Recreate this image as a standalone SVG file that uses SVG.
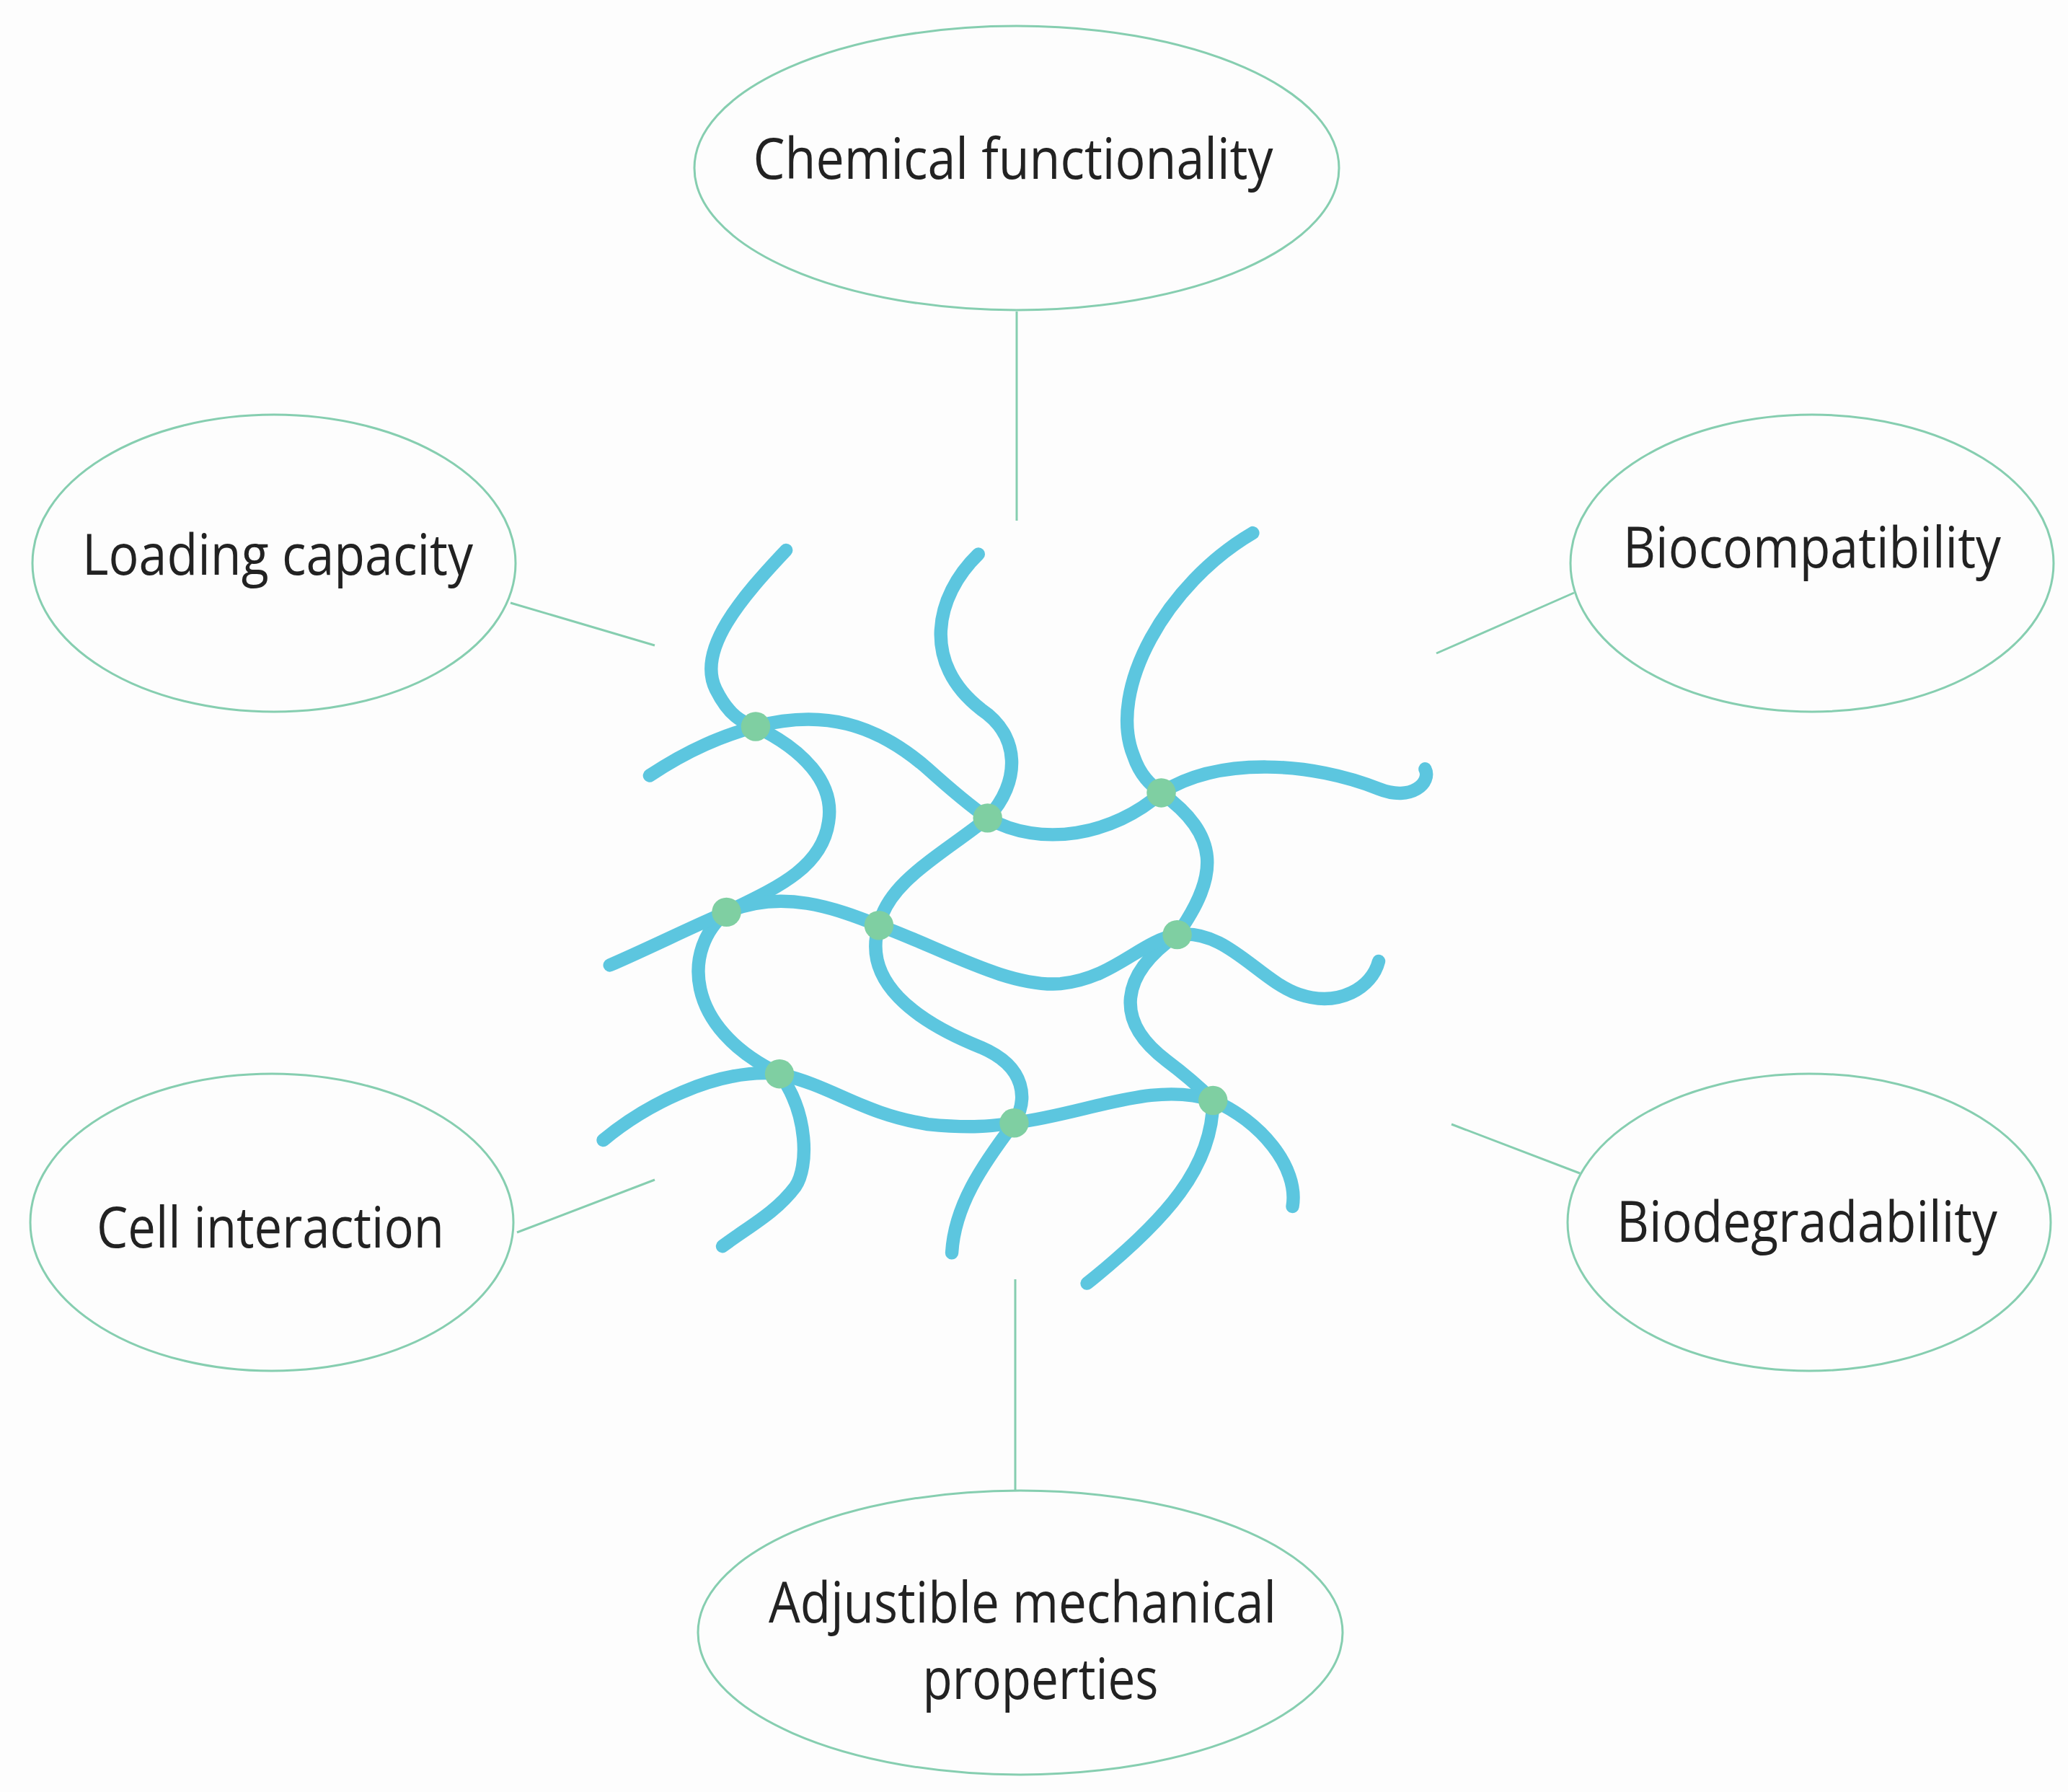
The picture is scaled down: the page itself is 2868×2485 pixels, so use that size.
<svg xmlns="http://www.w3.org/2000/svg" width="2868" height="2485" viewBox="0 0 2868 2485">
<style>
.n{fill:#fdfdfd;stroke:#86ceb0;stroke-width:3}
.c{stroke:#86ceb0;stroke-width:3;fill:none}
.t{font-family:"Open Sans",sans-serif;font-size:78px;fill:#222;text-anchor:middle}
.s{fill:none;stroke:#5cc6df;stroke-width:10;stroke-linecap:round;stroke-linejoin:round}
.d{fill:#7fcfa2}
</style>
<rect width="2868" height="2485" fill="#fdfdfd"/>
<g id="connectors">
<line class="c" x1="1410" y1="432" x2="1410" y2="722"/>
<line class="c" x1="708" y1="836" x2="908" y2="895"/>
<line class="c" x1="2183" y1="822" x2="1992" y2="906"/>
<line class="c" x1="717" y1="1709" x2="908" y2="1636"/>
<line class="c" x1="2191" y1="1627" x2="2013" y2="1559"/>
<line class="c" x1="1408" y1="1774" x2="1408" y2="2066"/>
</g>
<g id="chemical"><ellipse class="n" cx="1410" cy="233" rx="447" ry="197"/><text class="t" x="1405" y="248" textLength="721" lengthAdjust="spacingAndGlyphs">Chemical functionality</text></g>
<g id="loading"><ellipse class="n" cx="380" cy="781" rx="335" ry="206"/><text class="t" x="385" y="797" textLength="542" lengthAdjust="spacingAndGlyphs">Loading capacity</text></g>
<g id="biocompat"><ellipse class="n" cx="2513" cy="781" rx="335" ry="206"/><text class="t" x="2513" y="787" textLength="524" lengthAdjust="spacingAndGlyphs">Biocompatibility</text></g>
<g id="cell"><ellipse class="n" cx="377" cy="1695" rx="335" ry="206"/><text class="t" x="375" y="1730" textLength="482" lengthAdjust="spacingAndGlyphs">Cell interaction</text></g>
<g id="biodeg"><ellipse class="n" cx="2509" cy="1695" rx="335" ry="206"/><text class="t" x="2506" y="1722" textLength="528" lengthAdjust="spacingAndGlyphs">Biodegradability</text></g>
<g id="mech"><ellipse class="n" cx="1415" cy="2264" rx="447" ry="197"/><text class="t" x="1418" y="2250" textLength="704" lengthAdjust="spacingAndGlyphs">Adjustible mechanical</text><text class="t" x="1443" y="2356" textLength="327" lengthAdjust="spacingAndGlyphs">properties</text></g>
<g id="network" transform="scale(1.8385)">
<path class="s" d="M593,415 C560,450 525,490 540,520 C550,540 560,545 570,548 C605,565 630,590 625,620 C620,655 585,670 548,688 C515,715 515,775 588,810 C610,840 610,880 600,895 C585,915 565,925 545,940"/>
<path class="s" d="M490,585 C520,565 545,555 570,548 C620,535 660,545 700,580 C720,598 735,610 745,617 C785,640 840,630 876,598 C920,570 990,575 1040,595 C1065,605 1080,590 1075,580"/>
<path class="s" d="M738,418 C705,450 695,500 740,535 C770,555 770,590 745,617 C710,645 670,665 663,698 C650,740 690,770 740,790 C775,805 775,830 765,847 C740,880 720,910 718,945"/>
<path class="s" d="M945,402 C880,440 835,520 855,570 C860,585 868,592 876,598 C920,630 920,660 888,705 C845,735 840,770 880,800 C900,815 910,825 915,830 C915,880 880,920 820,968"/>
<path class="s" d="M460,728 C490,715 520,700 548,688 C590,670 630,685 663,698 C710,715 760,745 800,742 C840,738 860,710 888,705 C925,700 950,740 980,750 C1010,760 1035,745 1040,725"/>
<path class="s" d="M455,860 C485,835 540,805 588,810 C630,820 650,840 700,848 C740,852 755,848 765,847 C820,840 870,815 915,830 C950,845 980,880 975,910"/>
<circle class="d" cx="570" cy="548" r="11"/><circle class="d" cx="745" cy="617" r="11"/><circle class="d" cx="876" cy="598" r="11"/>
<circle class="d" cx="548" cy="688" r="11"/><circle class="d" cx="663" cy="698" r="11"/><circle class="d" cx="888" cy="705" r="11"/>
<circle class="d" cx="588" cy="810" r="11"/><circle class="d" cx="765" cy="847" r="11"/><circle class="d" cx="915" cy="830" r="11"/>
</g>
</svg>
